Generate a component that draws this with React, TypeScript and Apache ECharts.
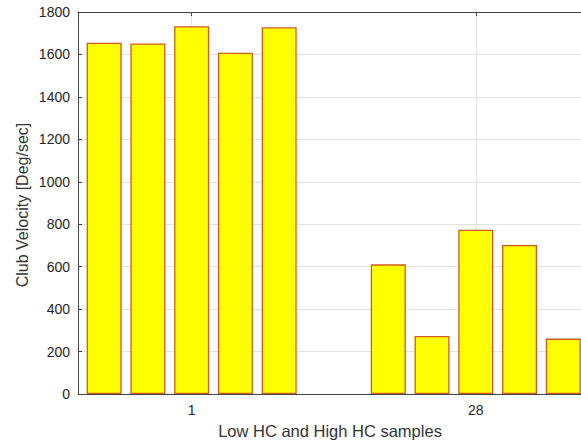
import React, { useEffect, useRef } from "react";
import * as echarts from "echarts";

const categories = [1, 28];
const tickLabels = ["1", "28"];
const sample1 = [1655, 611];
const sample2 = [1652, 273];
const sample3 = [1733, 774];
const sample4 = [1608, 702];
const sample5 = [1728, 261];
const seriesValues = [sample1, sample2, sample3, sample4, sample5];
const yTicks = [0, 200, 400, 600, 800, 1000, 1200, 1400, 1600, 1800];
const xName = "Low HC and High HC samples";
const yName = "Club Velocity [Deg/sec]";

const FONT = "'Liberation Sans', Arial, sans-serif";

export default function App() {
  const ref = useRef<HTMLDivElement>(null);
  useEffect(() => {
    if (!ref.current) return;
    const chart = echarts.init(ref.current, undefined, { renderer: "svg" });
    const xMin = -9.8;
    const xMax = 38;
    const axisColor = "#444";
    chart.setOption({
      animation: false,
      backgroundColor: "#ffffff",
      textStyle: { fontFamily: FONT },
      grid: { left: 78, top: 12, bottom: 48, right: 0, outerBoundsMode: "none" },
      xAxis: [
        {
          type: "value",
          position: "bottom",
          min: xMin,
          max: xMax,
          axisLine: { show: true, onZero: false, lineStyle: { color: axisColor, width: 1 } },
          axisTick: { show: true, inside: true, length: 4, customValues: categories, lineStyle: { color: axisColor } },
          axisLabel: {
            customValues: categories,
            formatter: (v: number) => tickLabels[categories.indexOf(v)] ?? "",
            fontSize: 14,
            color: "#262626",
            margin: 9,
            fontFamily: FONT,
          },
          splitLine: { show: true, lineStyle: { color: "#e3e3e3", width: 1 } },
        },
        {
          type: "value",
          position: "top",
          min: xMin,
          max: xMax,
          axisLine: { show: true, onZero: false, lineStyle: { color: axisColor, width: 1 } },
          axisTick: { show: true, inside: true, length: 4, customValues: categories, lineStyle: { color: axisColor } },
          axisLabel: { show: false },
          splitLine: { show: false },
        },
      ],
      yAxis: {
        type: "value",
        position: "left",
        min: yTicks[0],
        max: yTicks[yTicks.length - 1],
        interval: 200,
        axisLine: { show: true, onZero: false, lineStyle: { color: axisColor, width: 1 } },
        axisTick: { show: true, inside: true, length: 4, lineStyle: { color: axisColor } },
        axisLabel: {
          fontSize: 14,
          color: "#262626",
          margin: 8,
          fontFamily: FONT,
          formatter: (v: number) => String(v),
        },
        splitLine: { show: true, lineStyle: { color: "#e3e3e3", width: 1 } },
      },
      graphic: [
        {
          type: "text",
          x: 22,
          y: 205,
          rotation: Math.PI / 2,
          style: {
            text: yName,
            fontSize: 16,
            fill: "#333",
            fontFamily: FONT,
            align: "center",
            verticalAlign: "middle",
          },
        },
        {
          type: "text",
          x: 330,
          y: 431,
          style: {
            text: xName,
            fontSize: 16.5,
            fill: "#333",
            fontFamily: FONT,
            align: "center",
            verticalAlign: "middle",
          },
        },
      ],
      series: seriesValues.map((vals, i) => ({
        type: "bar",
        name: "s" + (i + 1),
        xAxisIndex: 0,
        barWidth: 35,
        barGap: "25%",
        data: categories.map((c, j) => [c, vals[j]]),
        itemStyle: { color: "#ffff00", borderColor: "#cf5a20", borderWidth: 1.3 },
      })),
    });
    return () => chart.dispose();
  }, []);
  return (
    <div
      ref={ref}
      style={{ position: "absolute", left: 0, top: 0, width: 581, height: 442 }}
    />
  );
}
